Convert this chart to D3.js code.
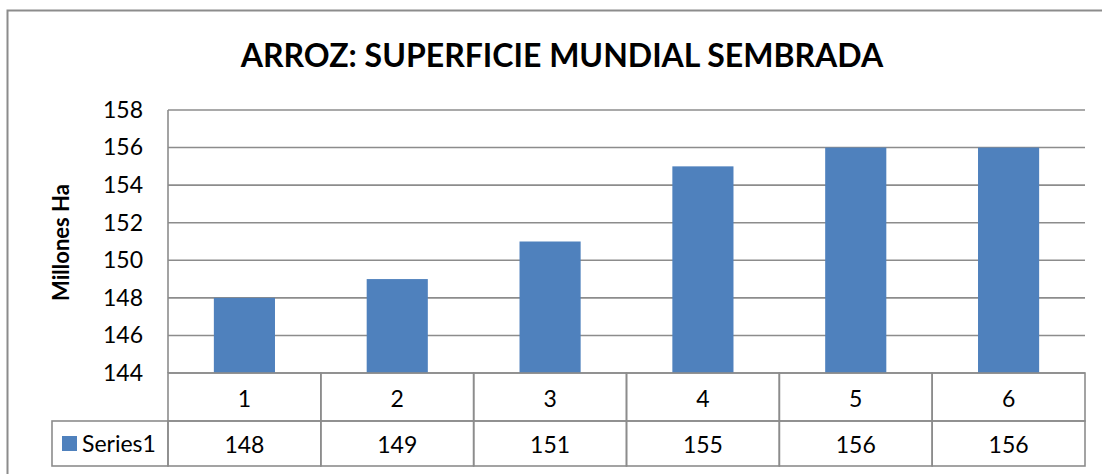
<!DOCTYPE html>
<html>
<head>
<meta charset="utf-8">
<script src="https://cdn.jsdelivr.net/npm/d3@7"></script>
<style>
  body { margin: 0; background: #fff; }
  svg { display: block; font-family: Lato, "Open Sans", sans-serif; }
</style>
</head>
<body>
<script>
const categories = ["1", "2", "3", "4", "5", "6"];
const values = [148, 149, 151, 155, 156, 156];
const yTicks = [144, 146, 148, 150, 152, 154, 156, 158];
const seriesName = "Series1";

const W = 1102, H = 474;
const plot = { left: 168, right: 1085, top: 110, bottom: 373 };
const rowH = 48;
const gridColor = "#8c8c8c";
const barColor = "#4f81bd";
const fontSize = 23;

const svg = d3.select("body").append("svg")
  .attr("width", W)
  .attr("height", H);

// Outer chart border
svg.append("rect")
  .attr("x", 7.5).attr("y", 10.5)
  .attr("width", 1110).attr("height", 480)
  .attr("fill", "#fff")
  .attr("stroke", "#8c8c8c")
  .attr("stroke-width", 2);

svg.append("text")
  .attr("x", 562).attr("y", 67)
  .attr("text-anchor", "middle")
  .attr("font-size", 32)
  .attr("font-weight", "bold")
  .text("ARROZ: SUPERFICIE MUNDIAL SEMBRADA");

const x = d3.scaleBand()
  .domain(categories)
  .range([plot.left, plot.right])
  .paddingInner(0.6)
  .paddingOuter(0.3);

const xCell = d3.scaleBand()
  .domain(categories)
  .range([plot.left, plot.right]);

const y = d3.scaleLinear()
  .domain([144, 158])
  .range([plot.bottom, plot.top]);

// Gridlines
svg.append("g")
  .selectAll("line")
  .data(yTicks)
  .join("line")
  .attr("x1", plot.left).attr("x2", plot.right)
  .attr("y1", d => y(d)).attr("y2", d => y(d))
  .attr("stroke", gridColor)
  .attr("stroke-width", 1.6);

// Y axis labels
const yAxis = svg.append("g")
  .attr("transform", `translate(${plot.left},0)`)
  .call(d3.axisLeft(y).tickValues(yTicks).tickSize(0).tickPadding(25));
yAxis.select(".domain").remove();
yAxis.selectAll("text")
  .attr("font-size", fontSize)
  .attr("font-family", "Lato, 'Open Sans', sans-serif")
  .attr("fill", "#000");

svg.append("line")
  .attr("x1", plot.left).attr("x2", plot.left)
  .attr("y1", plot.top).attr("y2", plot.bottom)
  .attr("stroke", gridColor).attr("stroke-width", 1.6);

svg.append("text")
  .attr("transform", `translate(69,${(plot.top + plot.bottom) / 2 + 1}) rotate(-90)`)
  .attr("text-anchor", "middle")
  .attr("font-size", 22)
  .attr("font-weight", "bold")
  .text("Millones Ha");

// Bars
svg.append("g")
  .selectAll("rect")
  .data(values)
  .join("rect")
  .attr("x", (d, i) => x(categories[i]))
  .attr("width", x.bandwidth())
  .attr("y", d => y(d))
  .attr("height", d => y(144) - y(d))
  .attr("fill", barColor);

// Data table
const table = svg.append("g")
  .attr("fill", "none")
  .attr("stroke", gridColor)
  .attr("stroke-width", 1.6);

table.selectAll(".cell1")
  .data(categories)
  .join("rect")
  .attr("x", d => xCell(d))
  .attr("y", plot.bottom)
  .attr("width", xCell.bandwidth())
  .attr("height", rowH);

table.selectAll(".cell2")
  .data(categories)
  .join("rect")
  .attr("x", d => xCell(d))
  .attr("y", plot.bottom + rowH)
  .attr("width", xCell.bandwidth())
  .attr("height", 45);

table.append("rect")
  .attr("x", 52)
  .attr("y", plot.bottom + rowH)
  .attr("width", plot.left - 52)
  .attr("height", 45);

svg.append("g")
  .selectAll("text")
  .data(categories)
  .join("text")
  .attr("x", d => xCell(d) + xCell.bandwidth() / 2)
  .attr("y", plot.bottom + 34)
  .attr("text-anchor", "middle")
  .attr("font-size", fontSize)
  .text(d => d);

svg.append("g")
  .selectAll("text")
  .data(values)
  .join("text")
  .attr("x", (d, i) => xCell(categories[i]) + xCell.bandwidth() / 2)
  .attr("y", plot.bottom + rowH + 32)
  .attr("text-anchor", "middle")
  .attr("font-size", fontSize)
  .text(d => d);

svg.append("rect")
  .attr("x", 62).attr("y", plot.bottom + rowH + 15)
  .attr("width", 15).attr("height", 15)
  .attr("fill", barColor);

svg.append("text")
  .attr("x", 82).attr("y", plot.bottom + rowH + 31)
  .attr("font-size", fontSize)
  .text(seriesName);
</script>
</body>
</html>
